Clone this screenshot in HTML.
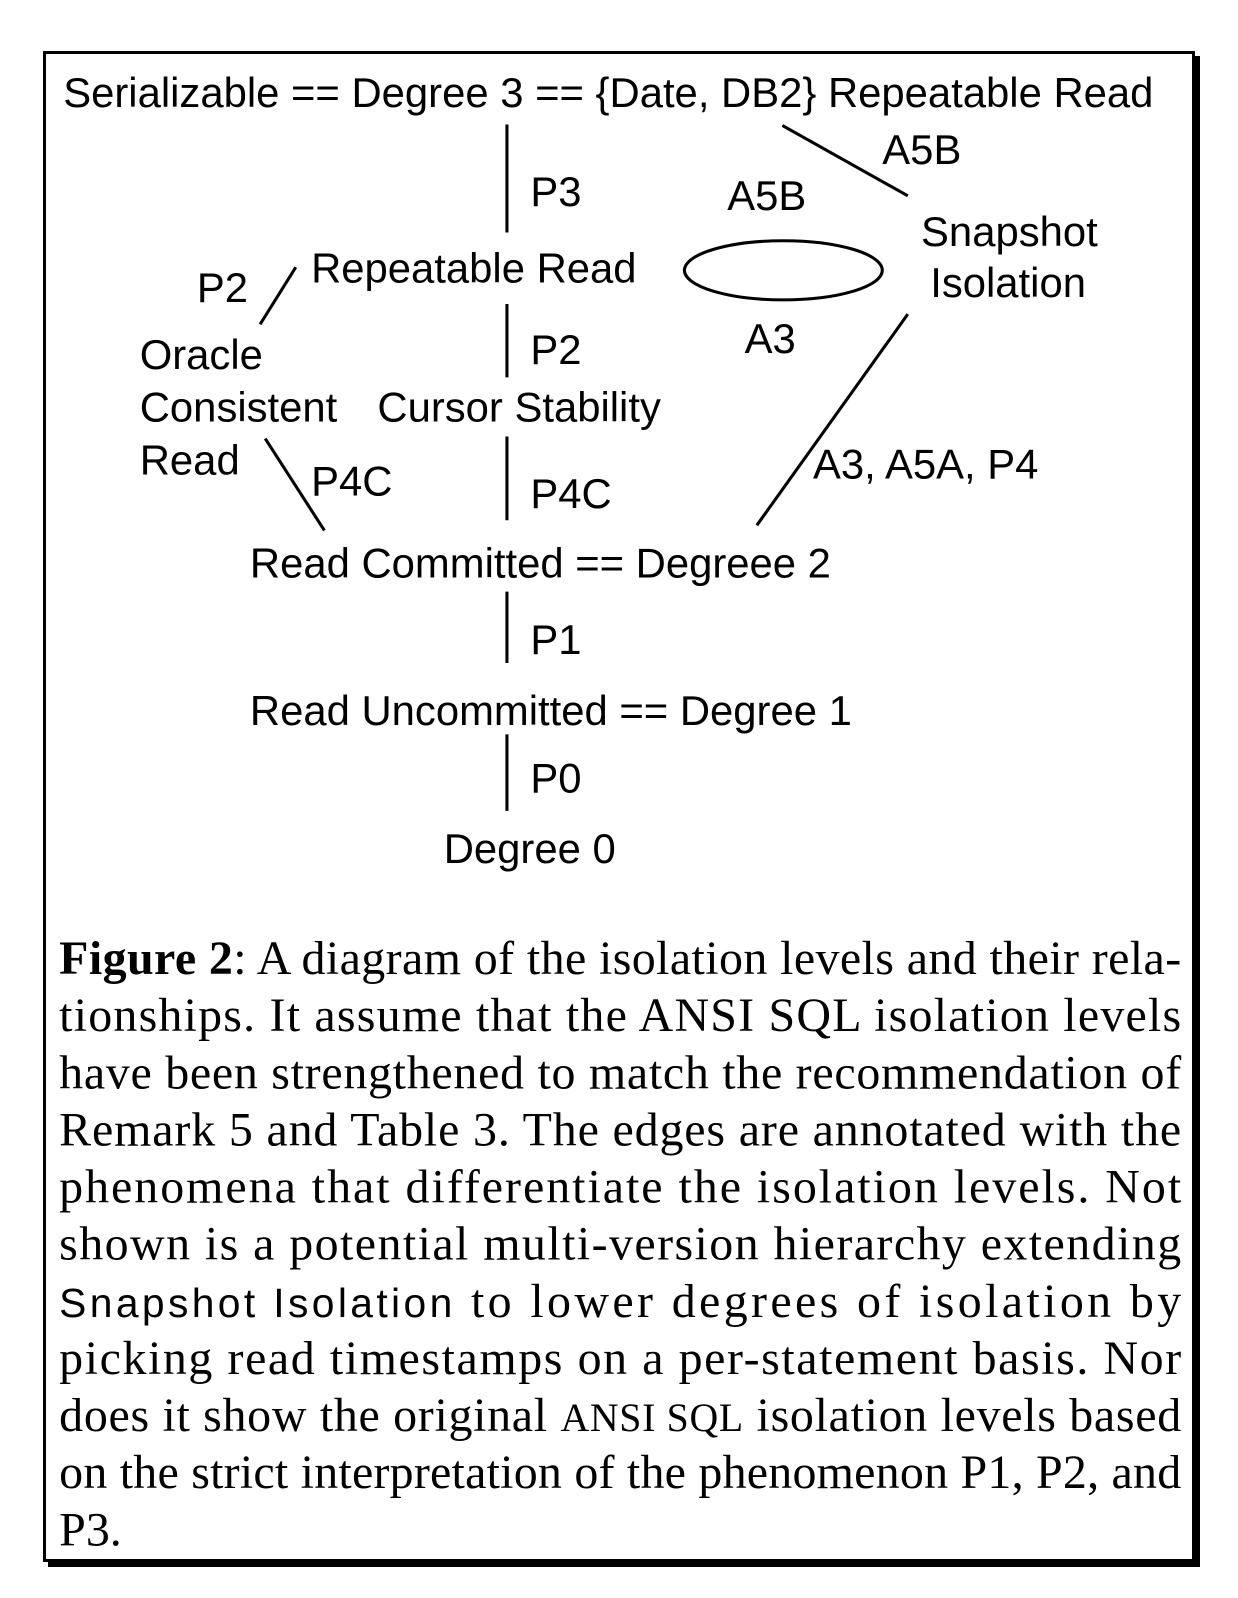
<!DOCTYPE html>
<html><head><meta charset="utf-8"><style>
html,body{margin:0;padding:0;background:#fff;width:1238px;height:1598px;overflow:hidden}
svg{display:block}
.s{font-family:"Liberation Sans",Arial,sans-serif;font-size:41px;fill:#000}
.c{font-family:"Liberation Serif","Times New Roman",serif;font-size:47px;fill:#000}
</style></head><body>
<svg width="1238" height="1598" viewBox="0 0 1238 1598">
<rect x="44.5" y="52.5" width="1149" height="1508" fill="none" stroke="#000" stroke-width="3"/>
<rect x="1193" y="56" width="7" height="1511" fill="#000"/>
<rect x="48" y="1560" width="1152" height="7" fill="#000"/>
<g transform="scale(1.02)">
<g stroke="#000" stroke-width="3" fill="none">
<line x1="497" y1="122" x2="497" y2="228"/>
<line x1="767" y1="123" x2="890" y2="192"/>
<line x1="255" y1="318" x2="290" y2="262"/>
<ellipse cx="768" cy="265" rx="97" ry="29"/>
<line x1="497" y1="298" x2="497" y2="370"/>
<line x1="890" y1="308" x2="742" y2="515"/>
<line x1="260" y1="430" x2="318" y2="520"/>
<line x1="497" y1="428" x2="497" y2="510"/>
<line x1="497" y1="580" x2="497" y2="650"/>
<line x1="497" y1="720" x2="497" y2="795"/>
</g>
<text class="s" x="62" y="105">Serializable ==  Degree 3 == {Date, DB2} Repeatable Read</text>
<text class="s" x="520" y="202">P3</text>
<text class="s" x="713" y="206">A5B</text>
<text class="s" x="865" y="161">A5B</text>
<text class="s" x="903" y="241">Snapshot</text>
<text class="s" x="912" y="291">Isolation</text>
<text class="s" x="193" y="296">P2</text>
<text class="s" x="305" y="277">Repeatable Read</text>
<text class="s" x="520" y="357">P2</text>
<text class="s" x="730" y="346">A3</text>
<text class="s" x="137" y="362">Oracle</text>
<text class="s" x="137" y="413">Consistent</text>
<text class="s" x="137" y="465">Read</text>
<text class="s" x="370" y="413">Cursor Stability</text>
<text class="s" x="797" y="469">A3, A5A, P4</text>
<text class="s" x="305" y="486">P4C</text>
<text class="s" x="520" y="498">P4C</text>
<text class="s" x="245" y="566">Read Committed == Degreee 2</text>
<text class="s" x="520" y="641">P1</text>
<text class="s" x="245" y="711">Read Uncommitted == Degree 1</text>
<text class="s" x="520" y="777">P0</text>
<text class="s" x="435" y="846">Degree 0</text>
<g>
<text class="c" x="58" y="955" textLength="1100" lengthAdjust="spacing"><tspan font-weight="bold">Figure 2</tspan>: A diagram of the isolation levels and their rela-</text>
<text class="c" x="58" y="1011" textLength="1100" lengthAdjust="spacing">tionships.  It assume that the ANSI SQL isolation levels</text>
<text class="c" x="58" y="1067" textLength="1100" lengthAdjust="spacing">have been strengthened to match the recommendation of</text>
<text class="c" x="58" y="1123" textLength="1100" lengthAdjust="spacing">Remark 5 and Table 3.  The edges are annotated with the</text>
<text class="c" x="58" y="1179" textLength="1100" lengthAdjust="spacing">phenomena that differentiate the isolation levels.  Not</text>
<text class="c" x="58" y="1235" textLength="1100" lengthAdjust="spacing">shown is a potential multi-version hierarchy extending</text>
<text class="c" x="58" y="1291" textLength="1100" lengthAdjust="spacing"><tspan font-family="Liberation Sans, Arial, sans-serif" font-size="40">Snapshot Isolation</tspan> to lower degrees of isolation by</text>
<text class="c" x="58" y="1347" textLength="1100" lengthAdjust="spacing">picking read timestamps on a per-statement basis.  Nor</text>
<text class="c" x="58" y="1403" textLength="1100" lengthAdjust="spacing">does it show the original <tspan font-size="39">ANSI SQL</tspan> isolation levels  based</text>
<text class="c" x="58" y="1459" textLength="1100" lengthAdjust="spacing">on the strict interpretation of the phenomenon P1, P2, and</text>
<text class="c" x="58" y="1515">P3.</text>
</g>
</g>
</svg>
</body></html>
